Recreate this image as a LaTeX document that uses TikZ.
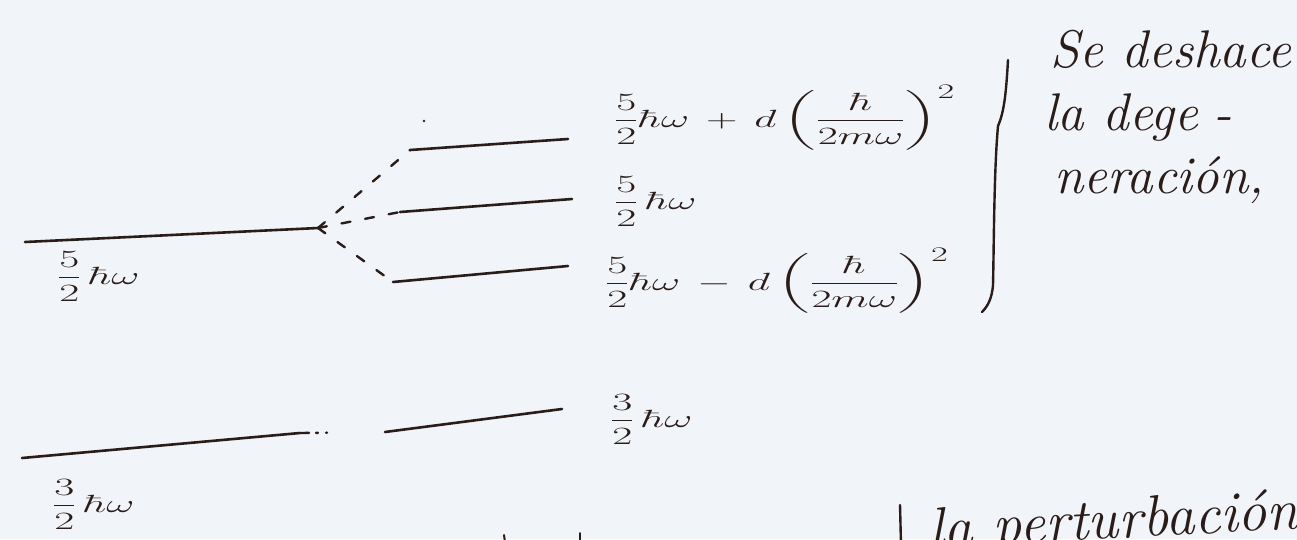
\documentclass[tikz,border=0pt]{standalone}
\usepackage{graphicx}
\usepackage{amsmath}
\definecolor{ink}{RGB}{42,28,24}
\definecolor{paper}{RGB}{241,244,249}
\tikzset{
  level/.style={draw=ink, line width=2.6pt, line cap=round},
  split/.style={draw=ink, line width=2.4pt, line cap=round, dash pattern=on 9pt off 15pt},
  lab/.style={inner sep=0pt, anchor=base west, text=ink},
  hand/.style={inner sep=0pt, anchor=base west, text=ink, font=\fontsize{53}{60}\selectfont\itshape},
}
\newcommand{\mlab}[1]{\scalebox{1.75}[1]{\fontsize{29}{34}\selectfont$\displaystyle #1$}}
\begin{document}
\begin{tikzpicture}[x=1pt,y=-1pt]
\fill[paper] (0,0) rectangle (1297,539);
\useasboundingbox (0,0) rectangle (1297,539);
\clip (0,0) rectangle (1297,539);

% level end points
\coordinate (A1) at (25,242);  \coordinate (A2) at (318,228);
\coordinate (T1) at (410,150); \coordinate (T2) at (568,139);
\coordinate (M1) at (400,212); \coordinate (M2) at (572,199);
\coordinate (B1) at (393,282); \coordinate (B2) at (568,266);
\coordinate (C1) at (22,458);  \coordinate (C2) at (300,433);
\coordinate (D1) at (385,432); \coordinate (D2) at (562,409);

% levels
\draw[level] (A1) -- (A2);
\draw[level] (T1) -- (T2);
\draw[level] (M1) -- (M2);
\draw[level] (B1) -- (B2);
\draw[level] (C1) -- (C2);
\draw[level] (D1) -- (D2);

% splitting connectors
\draw[split] (A2) -- (T1);
\draw[split] (A2) -- (M1);
\draw[split] (A2) -- (B1);
\draw[split, dash pattern=on 9pt off 7pt on 2pt off 8pt on 1pt off 200pt] (C2) -- (D1);

% stray dot
\fill[ink] (424,121) circle (1.3pt);

% labels
\node[lab] (l5) at (57,284) {\mlab{\frac{5}{2}\,\hbar\omega}};
\node[lab] (l3) at (52,512) {\mlab{\frac{3}{2}\,\hbar\omega}};
\node[lab] (rt) at (614,127) {\mlab{\frac{5}{2}\hbar\omega\,+\,d\left(\frac{\hbar}{2m\omega}\right)^{2}}};
\node[lab] (rm) at (614,209) {\mlab{\frac{5}{2}\,\hbar\omega}};
\node[lab] (rb) at (605,290) {\mlab{\frac{5}{2}\hbar\omega\,-\,d\left(\frac{\hbar}{2m\omega}\right)^{2}}};
\node[lab] (r3) at (610,427) {\mlab{\frac{3}{2}\,\hbar\omega}};

% brace
\draw[ink, line width=2.4pt, line cap=round]
  (1008,60) .. controls (1006,95) and (1004,112) .. (998,126)
  .. controls (994,170) and (994,240) .. (993,285)
  .. controls (992,298) and (988,306) .. (982,312);

% handwritten note
\node[hand] (n1) at (1050,67) {Se deshace};
\node[hand] (n2) at (1044,130) {la\hspace{0.35em}dege\hspace{0.3em}-};
\node[hand] (n3) at (1054,193) {neraci\'on,};

% bottom note (cut off by the page)
\draw[ink, line width=2.4pt, line cap=round] (900,505) -- (901,545);
\node[hand, font=\fontsize{58}{64}\selectfont\itshape, rotate=3] (n4) at (930,548) {la perturbaci\'on};
\draw[ink, line width=2pt, line cap=round] (504,535) -- (505,542);
\draw[ink, line width=2pt, line cap=round] (580,533) -- (580,542);
\end{tikzpicture}
\end{document}
